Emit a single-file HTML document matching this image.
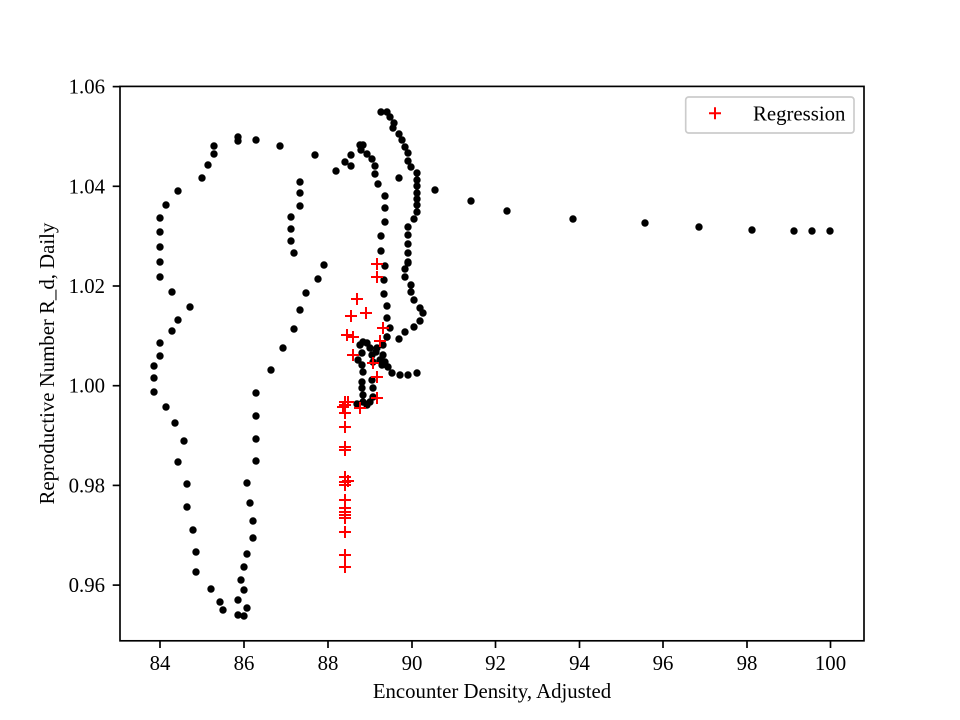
<!DOCTYPE html>
<html>
<head>
<meta charset="utf-8">
<style>
html,body{margin:0;padding:0;background:#fff;}
svg{display:block;}
text{font-family:"Liberation Serif","Times New Roman",serif;font-size:20.8px;fill:#000;}
</style>
</head>
<body>
<svg width="960" height="720" viewBox="0 0 960 720" xmlns="http://www.w3.org/2000/svg">
<rect x="0" y="0" width="960" height="720" fill="#fff"/>

<!-- black dots -->
<g fill="#000">
<!-- outer left loop -->
<circle cx="238" cy="137" r="3.7"/><circle cx="238" cy="141" r="3.7"/><circle cx="256" cy="140" r="3.7"/><circle cx="280" cy="146" r="3.7"/><circle cx="315" cy="155" r="3.7"/>
<circle cx="214" cy="146" r="3.7"/><circle cx="214" cy="154" r="3.7"/><circle cx="208" cy="165" r="3.7"/><circle cx="202" cy="178" r="3.7"/><circle cx="178" cy="191" r="3.7"/>
<circle cx="166" cy="205" r="3.7"/><circle cx="160" cy="218" r="3.7"/><circle cx="160" cy="232" r="3.7"/><circle cx="160" cy="247" r="3.7"/><circle cx="160" cy="262" r="3.7"/>
<circle cx="160" cy="277" r="3.7"/><circle cx="172" cy="292" r="3.7"/><circle cx="190" cy="307" r="3.7"/><circle cx="178" cy="320" r="3.7"/><circle cx="172" cy="331" r="3.7"/>
<circle cx="160" cy="343" r="3.7"/><circle cx="160" cy="356" r="3.7"/><circle cx="154" cy="366" r="3.7"/><circle cx="154" cy="378" r="3.7"/><circle cx="154" cy="392" r="3.7"/>
<circle cx="166" cy="407" r="3.7"/><circle cx="175" cy="423" r="3.7"/><circle cx="184" cy="441" r="3.7"/><circle cx="178" cy="462" r="3.7"/><circle cx="187" cy="484" r="3.7"/>
<circle cx="187" cy="507" r="3.7"/><circle cx="193" cy="530" r="3.7"/><circle cx="196" cy="552" r="3.7"/><circle cx="196" cy="572" r="3.7"/><circle cx="211" cy="589" r="3.7"/>
<circle cx="220" cy="602" r="3.7"/><circle cx="223" cy="610" r="3.7"/><circle cx="238" cy="615" r="3.7"/><circle cx="244" cy="616" r="3.7"/><circle cx="247" cy="608" r="3.7"/>
<circle cx="238" cy="600" r="3.7"/><circle cx="244" cy="590" r="3.7"/><circle cx="241" cy="580" r="3.7"/><circle cx="244" cy="567" r="3.7"/><circle cx="247" cy="554" r="3.7"/>
<circle cx="253" cy="538" r="3.7"/><circle cx="253" cy="521" r="3.7"/><circle cx="250" cy="503" r="3.7"/><circle cx="247" cy="483" r="3.7"/><circle cx="256" cy="461" r="3.7"/>
<circle cx="256" cy="439" r="3.7"/><circle cx="256" cy="416" r="3.7"/><circle cx="256" cy="393" r="3.7"/><circle cx="271" cy="370" r="3.7"/><circle cx="283" cy="348" r="3.7"/>
<circle cx="294" cy="329" r="3.7"/><circle cx="300" cy="310" r="3.7"/><circle cx="306" cy="293" r="3.7"/><circle cx="318" cy="279" r="3.7"/><circle cx="324" cy="265" r="3.7"/>
<circle cx="294" cy="253" r="3.7"/><circle cx="291" cy="241" r="3.7"/><circle cx="291" cy="229" r="3.7"/><circle cx="291" cy="217" r="3.7"/><circle cx="300" cy="206" r="3.7"/>
<circle cx="300" cy="193" r="3.7"/><circle cx="300" cy="182" r="3.7"/>
<!-- middle arc -->
<circle cx="336" cy="171" r="3.7"/><circle cx="345" cy="162" r="3.7"/><circle cx="351" cy="155" r="3.7"/><circle cx="351" cy="166" r="3.7"/><circle cx="360" cy="145" r="3.7"/>
<circle cx="363" cy="145" r="3.7"/><circle cx="361" cy="150" r="3.7"/><circle cx="367" cy="154" r="3.7"/><circle cx="372" cy="159" r="3.7"/><circle cx="375" cy="166" r="3.7"/>
<circle cx="375" cy="174" r="3.7"/><circle cx="378" cy="184" r="3.7"/><circle cx="385" cy="196" r="3.7"/><circle cx="385" cy="208" r="3.7"/><circle cx="385" cy="222" r="3.7"/>
<circle cx="381" cy="236" r="3.7"/><circle cx="381" cy="251" r="3.7"/><circle cx="385" cy="266" r="3.7"/><circle cx="384" cy="280" r="3.7"/><circle cx="384" cy="294" r="3.7"/>
<circle cx="387" cy="306" r="3.7"/><circle cx="387" cy="318" r="3.7"/><circle cx="390" cy="328" r="3.7"/><circle cx="387" cy="337" r="3.7"/><circle cx="399" cy="339" r="3.7"/>
<circle cx="405" cy="332" r="3.7"/><circle cx="414" cy="327" r="3.7"/><circle cx="420" cy="321" r="3.7"/><circle cx="423" cy="313" r="3.7"/><circle cx="420" cy="308" r="3.7"/>
<circle cx="414" cy="300" r="3.7"/><circle cx="411" cy="292" r="3.7"/><circle cx="411" cy="285" r="3.7"/><circle cx="405" cy="277" r="3.7"/><circle cx="405" cy="269" r="3.7"/>
<circle cx="408" cy="263" r="3.7"/>
<!-- right arc -->
<circle cx="381" cy="112" r="3.7"/><circle cx="387" cy="112" r="3.7"/><circle cx="390" cy="117" r="3.7"/><circle cx="394" cy="123" r="3.7"/><circle cx="393" cy="128" r="3.7"/>
<circle cx="399" cy="134" r="3.7"/><circle cx="402" cy="140" r="3.7"/><circle cx="405" cy="147" r="3.7"/><circle cx="408" cy="153" r="3.7"/><circle cx="408" cy="161" r="3.7"/>
<circle cx="411" cy="167" r="3.7"/><circle cx="399" cy="178" r="3.7"/><circle cx="417" cy="173" r="3.7"/><circle cx="417" cy="180" r="3.7"/><circle cx="417" cy="186" r="3.7"/>
<circle cx="417" cy="193" r="3.7"/><circle cx="417" cy="199" r="3.7"/><circle cx="417" cy="205" r="3.7"/><circle cx="417" cy="212" r="3.7"/><circle cx="414" cy="219" r="3.7"/>
<circle cx="408" cy="227" r="3.7"/><circle cx="408" cy="235" r="3.7"/><circle cx="408" cy="244" r="3.7"/><circle cx="408" cy="253" r="3.7"/><circle cx="408" cy="262" r="3.7"/>
<!-- bottom cluster -->
<circle cx="363" cy="342" r="3.7"/><circle cx="360" cy="345" r="3.7"/><circle cx="367" cy="343" r="3.7"/><circle cx="370" cy="348" r="3.7"/><circle cx="377" cy="348" r="3.7"/>
<circle cx="383" cy="345" r="3.7"/><circle cx="387" cy="337" r="3.7"/><circle cx="362" cy="353" r="3.7"/><circle cx="372" cy="355" r="3.7"/><circle cx="358" cy="360" r="3.7"/>
<circle cx="383" cy="355" r="3.7"/><circle cx="385" cy="362" r="3.7"/><circle cx="388" cy="367" r="3.7"/><circle cx="382" cy="365" r="3.7"/><circle cx="362" cy="365" r="3.7"/>
<circle cx="363" cy="372" r="3.7"/><circle cx="392" cy="373" r="3.7"/><circle cx="400" cy="375" r="3.7"/><circle cx="408" cy="375" r="3.7"/><circle cx="417" cy="373" r="3.7"/>
<circle cx="372" cy="380" r="3.7"/><circle cx="362" cy="382" r="3.7"/><circle cx="373" cy="388" r="3.7"/><circle cx="362" cy="388" r="3.7"/><circle cx="373" cy="397" r="3.7"/>
<circle cx="363" cy="395" r="3.7"/><circle cx="370" cy="402" r="3.7"/><circle cx="363" cy="402" r="3.7"/><circle cx="357" cy="404" r="3.7"/><circle cx="367" cy="405" r="3.7"/>
<circle cx="380" cy="360" r="3.7"/><circle cx="376" cy="352" r="3.7"/><circle cx="373" cy="362" r="3.7"/>
<!-- tail -->
<circle cx="435" cy="190" r="3.7"/><circle cx="471" cy="201" r="3.7"/><circle cx="507" cy="211" r="3.7"/><circle cx="573" cy="219" r="3.7"/><circle cx="645" cy="223" r="3.7"/>
<circle cx="699" cy="227" r="3.7"/><circle cx="752" cy="230" r="3.7"/><circle cx="794" cy="231" r="3.7"/><circle cx="812" cy="231" r="3.7"/><circle cx="830" cy="231" r="3.7"/>
</g>

<!-- red plus markers -->
<g stroke="#ff0000" stroke-width="2" fill="none">
<path d="M371 264h12M377 258v12"/><path d="M371 277h12M377 271v12"/><path d="M351 299h12M357 293v12"/>
<path d="M360 313h12M366 307v12"/><path d="M345 316h12M351 310v12"/><path d="M377 328h12M383 322v12"/>
<path d="M341 335h12M347 329v12"/><path d="M347 337h12M353 331v12"/><path d="M374 341h12M380 335v12"/>
<path d="M347 355h12M353 349v12"/><path d="M367 363h12M373 357v12"/><path d="M371 377h12M377 371v12"/>
<path d="M371 398h12M377 392v12"/><path d="M339 402h12M345 396v12"/><path d="M342 402h12M348 396v12"/>
<path d="M337 407h12M343 401v12"/><path d="M354 408h12M360 402v12"/><path d="M339 413h12M345 407v12"/>
<path d="M339 405h12M345 399v12"/><path d="M339 427h12M345 421v12"/><path d="M339 447h12M345 441v12"/>
<path d="M339 450h12M345 444v12"/><path d="M339 477h12M345 471v12"/><path d="M339 482h12M345 476v12"/>
<path d="M342 481h12M348 475v12"/><path d="M339 485h12M345 479v12"/><path d="M339 500h12M345 494v12"/>
<path d="M339 508h12M345 502v12"/><path d="M339 512h12M345 506v12"/><path d="M339 515h12M345 509v12"/>
<path d="M339 518h12M345 512v12"/><path d="M339 532h12M345 526v12"/><path d="M339 555h12M345 549v12"/>
<path d="M339 567h12M345 561v12"/>
</g>

<!-- axes spines -->
<rect x="120" y="86.4" width="744" height="554.4" fill="none" stroke="#000" stroke-width="1.67"/>

<!-- x ticks -->
<g stroke="#000" stroke-width="1.67">
<line x1="160" y1="640.8" x2="160" y2="648"/><line x1="244" y1="640.8" x2="244" y2="648"/>
<line x1="328" y1="640.8" x2="328" y2="648"/><line x1="412" y1="640.8" x2="412" y2="648"/>
<line x1="495.5" y1="640.8" x2="495.5" y2="648"/><line x1="579.5" y1="640.8" x2="579.5" y2="648"/>
<line x1="663" y1="640.8" x2="663" y2="648"/><line x1="747" y1="640.8" x2="747" y2="648"/>
<line x1="830.5" y1="640.8" x2="830.5" y2="648"/>
</g>
<g text-anchor="middle">
<text x="160" y="670">84</text><text x="244" y="670">86</text><text x="328" y="670">88</text>
<text x="412" y="670">90</text><text x="495.5" y="670">92</text><text x="579.5" y="670">94</text>
<text x="663" y="670">96</text><text x="747" y="670">98</text><text x="830.5" y="670">100</text>
</g>

<!-- y ticks -->
<g stroke="#000" stroke-width="1.67">
<line x1="112.7" y1="86.6" x2="120" y2="86.6"/><line x1="112.7" y1="186.3" x2="120" y2="186.3"/>
<line x1="112.7" y1="286" x2="120" y2="286"/><line x1="112.7" y1="385.7" x2="120" y2="385.7"/>
<line x1="112.7" y1="485.4" x2="120" y2="485.4"/><line x1="112.7" y1="585.1" x2="120" y2="585.1"/>
</g>
<g text-anchor="end">
<text x="105" y="93.6">1.06</text><text x="105" y="193.3">1.04</text><text x="105" y="293">1.02</text>
<text x="105" y="392.7">1.00</text><text x="105" y="492.4">0.98</text><text x="105" y="592.1">0.96</text>
</g>

<!-- axis labels -->
<text x="492" y="698" text-anchor="middle">Encounter Density, Adjusted</text>
<text transform="translate(54,363.6) rotate(-90)" text-anchor="middle">Reproductive Number R_d, Daily</text>

<!-- legend -->
<rect x="685.7" y="97" width="168.3" height="36" rx="3" ry="3" fill="#fff" fill-opacity="0.8" stroke="#cccccc" stroke-width="1.67"/>
<path d="M709 113.3h12M715 107.3v12" stroke="#ff0000" stroke-width="2" fill="none"/>
<text x="753" y="120.5">Regression</text>
</svg>
</body>
</html>
